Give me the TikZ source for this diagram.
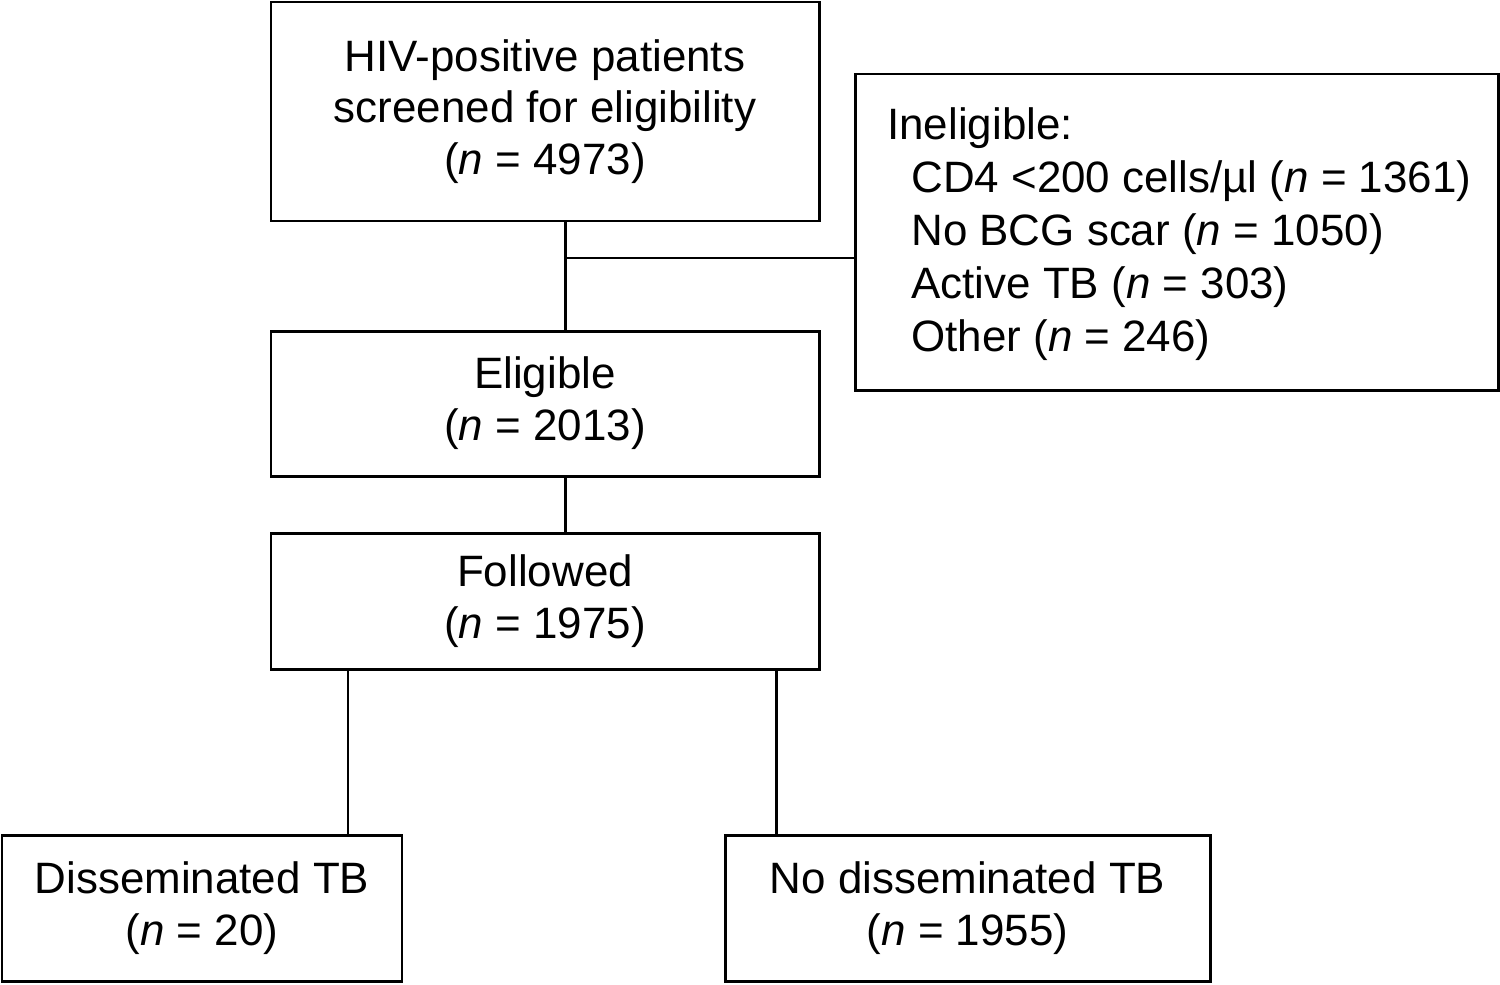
\documentclass[tikz,border=0pt]{standalone}
\usepackage{fontspec}
\setmainfont{Liberation Sans}
\begin{document}
\begin{tikzpicture}[x=0.02cm,y=-0.02cm,
  box/.style={draw,line width=1.7pt,inner sep=0pt,align=center,
    font=\fontsize{25}{29.5}\selectfont},
  txt/.style={inner sep=0pt,align=left,font=\fontsize{25}{30.2}\selectfont},
  conn/.style={line width=1.7pt}]
\useasboundingbox (0,0) rectangle (1500,984);
\node[box,minimum width=548*0.02cm,minimum height=219*0.02cm] (top) at (545,111.5)
  {HIV-positive patients\\screened for eligibility\\(\textit{n} = 4973)};
\node[box,minimum width=643*0.02cm,minimum height=316*0.02cm] (inel) at (1176.5,232) {};
\node[txt,anchor=west] (ineltext) at (887,234)
  {Ineligible:\\\hspace*{0.48cm}CD4 <200 cells/µl (\textit{n} = 1361)\\\hspace*{0.48cm}No BCG scar (\textit{n} = 1050)\\\hspace*{0.48cm}Active TB (\textit{n} = 303)\\\hspace*{0.48cm}Other (\textit{n} = 246)};
\node[box,minimum width=548*0.02cm,minimum height=145*0.02cm] (elig) at (545,403.5)
  {Eligible\\(\textit{n} = 2013)};
\node[box,minimum width=548*0.02cm,minimum height=136*0.02cm] (fol) at (545,601)
  {Followed\\(\textit{n} = 1975)};
\node[box,minimum width=400*0.02cm,minimum height=146*0.02cm] (dis) at (202,908)
  {Disseminated TB\\(\textit{n} = 20)};
\node[box,minimum width=485*0.02cm,minimum height=146*0.02cm] (nodis) at (967.5,908)
  {No disseminated TB\\(\textit{n} = 1955)};
\coordinate (j) at (565,258);
\coordinate (l) at (348,750);
\coordinate (r) at (776,750);
\draw[conn] (top.south -| j) -- (elig.north -| j);
\draw[conn] (j) -- (inel.west |- j);
\draw[conn] (elig.south -| j) -- (fol.north -| j);
\draw[conn] (fol.south -| l) -- (dis.north -| l);
\draw[conn] (fol.south -| r) -- (nodis.north -| r);
\end{tikzpicture}
\end{document}
